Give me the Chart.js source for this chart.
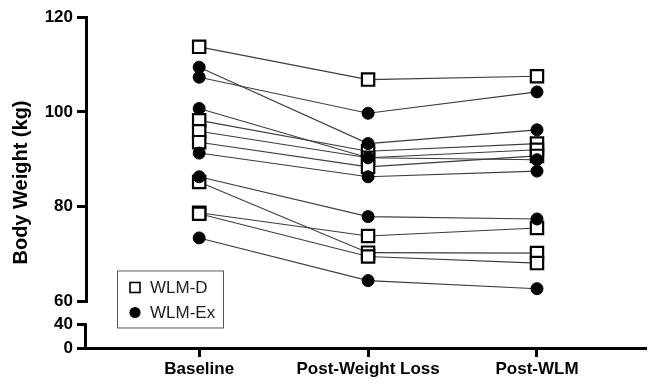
<!DOCTYPE html>
<html><head><meta charset="utf-8">
<script src="https://cdn.jsdelivr.net/npm/chart.js@4"></script>
<style>html,body{margin:0;padding:0;background:#fff}#wrap{width:656px;height:387px;position:relative}</style>
</head><body><div id="wrap"><canvas id="c" width="656" height="387"></canvas></div>
<script>
const categories = ['Baseline', 'Post-Weight Loss', 'Post-WLM'];
// WLM-D subjects (open squares): [Baseline, Post-Weight Loss, Post-WLM]
const wlmD = [
  [113.7, 106.8, 107.5],
  [98.2, 91.7, 93.3],
  [95.9, 90.3, 92.0],
  [93.6, 88.4, 90.7],
  [85.2, 70.3, 70.2],
  [78.7, 73.8, 75.5],
  [78.5, 69.5, 68.1]
];
// WLM-Ex subjects (filled circles)
const wlmEx = [
  [109.4, 93.3, 96.2],
  [107.3, 99.7, 104.2],
  [100.7, 90.3, 89.9],
  [91.3, 86.3, 87.5],
  [86.3, 77.9, 77.4],
  [73.4, 64.4, 62.7]
];
const upperTicks = [60, 80, 100, 120];
const lowerTicks = [0, 40];
const yTitle = 'Body Weight (kg)';
const legendLabels = ['WLM-D', 'WLM-Ex'];

const toPts = arr => arr.map((v, i) => ({x: i, y: v}));
const lineSets = [...wlmD, ...wlmEx].map(s => ({
  type: 'line', data: toPts(s), yAxisID: 'y', borderColor: '#3c3c3c', borderWidth: 1.1,
  pointRadius: 0, fill: false, order: 10
}));
const squareSet = {
  type: 'line', label: legendLabels[0], data: wlmD.flatMap(s => toPts(s)), yAxisID: 'y', showLine: false,
  pointStyle: 'rect', pointRadius: 8.7, pointBorderWidth: 2.2, pointBackgroundColor: '#fff', pointBorderColor: '#000', order: 2
};
const circleSet = {
  type: 'line', label: legendLabels[1], data: wlmEx.flatMap(s => toPts(s)), yAxisID: 'y', showLine: false,
  pointStyle: 'circle', pointRadius: 6, pointBorderWidth: 1, pointBackgroundColor: '#000', pointBorderColor: '#000', order: 1
};

const FONT = '"Liberation Sans", Arial, sans-serif';
const tickFont = {family: FONT, size: 17, weight: 'bold'};
const gridOpts = {display: true, drawOnChartArea: false, drawTicks: true, tickLength: 9, tickWidth: 3, tickColor: '#000', color: '#000', lineWidth: 3};

const extras = {
  id: 'extras',
  afterDraw(chart) {
    const ctx = chart.ctx, y = chart.scales.y, y2 = chart.scales.y2, ca = chart.chartArea;
    ctx.save();
    // lower axis segment (0-40)
    ctx.strokeStyle = '#000'; ctx.lineWidth = 3;
    ctx.beginPath();
    ctx.moveTo(ca.left - 0.5, y2.getPixelForValue(lowerTicks[0]) + 1.5);
    ctx.lineTo(ca.left - 0.5, y2.getPixelForValue(lowerTicks[1]) - 1.5);
    ctx.stroke();
    // y title
    ctx.fillStyle = '#000';
    ctx.font = 'bold 20px ' + FONT;
    ctx.textAlign = 'center'; ctx.textBaseline = 'middle';
    ctx.translate(21, (y.top + y2.bottom) / 2);
    ctx.rotate(-Math.PI / 2);
    ctx.fillText(yTitle, 0, 0);
    ctx.restore();
    // legend
    ctx.save();
    const lx = ca.left + 31, ly = y.getPixelForValue(60) - 31;
    ctx.strokeStyle = '#555'; ctx.lineWidth = 1;
    ctx.strokeRect(lx + 0.5, ly + 0.5, 106, 57);
    ctx.fillStyle = '#fff'; ctx.strokeStyle = '#000'; ctx.lineWidth = 1.6;
    ctx.fillRect(lx + 13, ly + 12, 10, 10);
    ctx.strokeRect(lx + 13, ly + 12, 10, 10);
    ctx.fillStyle = '#000';
    ctx.beginPath(); ctx.arc(lx + 18, ly + 42, 5.6, 0, Math.PI * 2); ctx.fill();
    ctx.fillStyle = '#222';
    ctx.font = '17px ' + FONT;
    ctx.textAlign = 'left'; ctx.textBaseline = 'middle';
    ctx.fillText(legendLabels[0], lx + 33, ly + 17.5);
    ctx.fillText(legendLabels[1], lx + 33, ly + 42.5);
    ctx.restore();
  }
};

new Chart(document.getElementById('c'), {
  type: 'line',
  data: {datasets: [...lineSets, squareSet, circleSet]},
  plugins: [extras],
  options: {
    responsive: false, animation: false, devicePixelRatio: 1,
    layout: {padding: {top: 17, right: 1, left: 0, bottom: 0}},
    plugins: {legend: {display: false}, tooltip: {enabled: false}},
    events: [],
    scales: {
      x: {
        type: 'linear', position: 'bottom', min: -0.67, max: 2.64,
        border: {display: true, width: 3, color: '#000'},
        grid: {...gridOpts, tickLength: 9},
        ticks: {font: tickFont, color: '#000', padding: 2, autoSkip: false, maxRotation: 0,
          callback: v => categories[v] !== undefined ? categories[v] : ''},
        afterBuildTicks: s => { s.ticks = categories.map((c, i) => ({value: i})); },
        afterFit: s => { s.height = 39; }
      },
      y: {
        type: 'linear', position: 'left', stack: 'v', stackWeight: 285, weight: 1,
        min: 60, max: 120,
        border: {display: true, width: 3, color: '#000'},
        grid: gridOpts,
        ticks: {font: tickFont, color: '#000', padding: 4},
        afterBuildTicks: s => { s.ticks = upperTicks.map(v => ({value: v})); },
        afterFit: s => { s.width = 86; }
      },
      y2: {
        type: 'linear', position: 'left', stack: 'v', stackWeight: 46.6, weight: 0,
        min: 0, max: 80,
        border: {display: false},
        grid: gridOpts,
        ticks: {font: tickFont, color: '#000', padding: 4},
        afterBuildTicks: s => { s.ticks = lowerTicks.map(v => ({value: v})); },
        afterFit: s => { s.width = 86; }
      }
    }
  }
});
</script></body></html>
